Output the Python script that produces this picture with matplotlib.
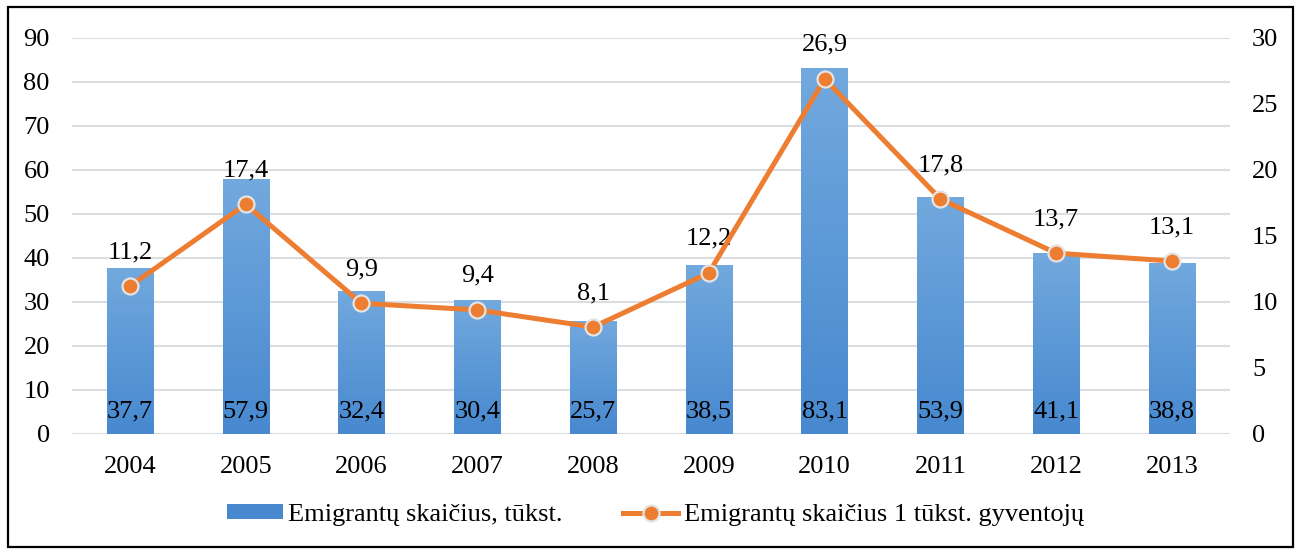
import numpy as np
import matplotlib.pyplot as plt
from matplotlib.patches import Rectangle
from matplotlib.colors import LinearSegmentedColormap

plt.rcParams['font.family'] = ['Liberation Serif', 'DejaVu Serif']

years = ['2004', '2005', '2006', '2007', '2008', '2009', '2010', '2011', '2012', '2013']
emigrants = [37.7, 57.9, 32.4, 30.4, 25.7, 38.5, 83.1, 53.9, 41.1, 38.8]
per_1000 = [11.2, 17.4, 9.9, 9.4, 8.1, 12.2, 26.9, 17.8, 13.7, 13.1]

BAR_TOP = '#72a9de'
BAR_BOT = '#4788cf'
LINE_COLOR = '#ed7d31'
FS = 19

def fmt(v):
    return f'{v:.1f}'.replace('.', ',')

fig = plt.figure(figsize=(12.98, 5.49), dpi=100)
ax = fig.add_axes([0.0555, 0.2095, 0.892, 0.7213])
x = np.arange(len(years))

bars = ax.bar(x, emigrants, width=0.4, color=BAR_BOT, zorder=2, label='Emigrantų skaičius, tūkst.')
# vertical gradient on bars
grad = np.linspace(0, 1, 256).reshape(-1, 1)
cmap = LinearSegmentedColormap.from_list('b', [BAR_BOT, BAR_TOP])
for b in bars:
    bx, by = b.get_x(), b.get_y()
    w, h = b.get_width(), b.get_height()
    im = ax.imshow(grad, extent=[bx, bx + w, by, by + h], origin='lower',
                   cmap=cmap, aspect='auto', zorder=2.1)
    im.set_clip_path(b)

for xi, v in zip(x, emigrants):
    ax.annotate(fmt(v), (xi, 0), xytext=(0, 16.5), textcoords='offset points',
                ha='center', va='center', fontsize=FS, zorder=5)

ax.set_xlim(-0.5, len(years) - 0.5)
ax.set_ylim(0, 90)
ax.set_yticks(range(0, 91, 10))
ax.set_xticks(x)
ax.set_xticklabels(years)
ax.grid(axis='y', color='#dadee3', lw=1.5, zorder=0)
ax.set_axisbelow(True)
ax.tick_params(length=0, labelsize=FS)
ax.tick_params(axis='y', pad=16)
ax.tick_params(axis='x', pad=16)
for s in ax.spines.values():
    s.set_visible(False)

ax2 = ax.twinx()
ax2.plot(x, per_1000, color=LINE_COLOR, lw=3.6, marker='o', markersize=11.5,
         markerfacecolor=LINE_COLOR, markeredgecolor='#e4e4e4', markeredgewidth=1.6,
         zorder=4, label='Emigrantų skaičius 1 tūkst. gyventojų')
for xi, v in zip(x, per_1000):
    ax2.annotate(fmt(v), (xi, v), xytext=(0, 24.5), textcoords='offset points',
                 ha='center', va='center', fontsize=FS)
ax2.set_ylim(0, 30)
ax2.set_yticks(range(0, 31, 5))
ax2.tick_params(length=0, labelsize=FS, pad=16)
for s in ax2.spines.values():
    s.set_visible(False)

h1, l1 = ax.get_legend_handles_labels()
h2, l2 = ax2.get_legend_handles_labels()
fig.legend(h1 + h2, l1 + l2, loc='center', bbox_to_anchor=(0.505, 0.062), ncol=2,
           frameon=False, fontsize=FS, handlelength=2.1, handleheight=0.5,
           handletextpad=0.2, columnspacing=2.3)

fig.patches.append(Rectangle((0.006, 0.004), 0.99, 0.983, transform=fig.transFigure,
                             fill=False, edgecolor='black', lw=1.6))

fig.savefig('out.png', dpi=100)
